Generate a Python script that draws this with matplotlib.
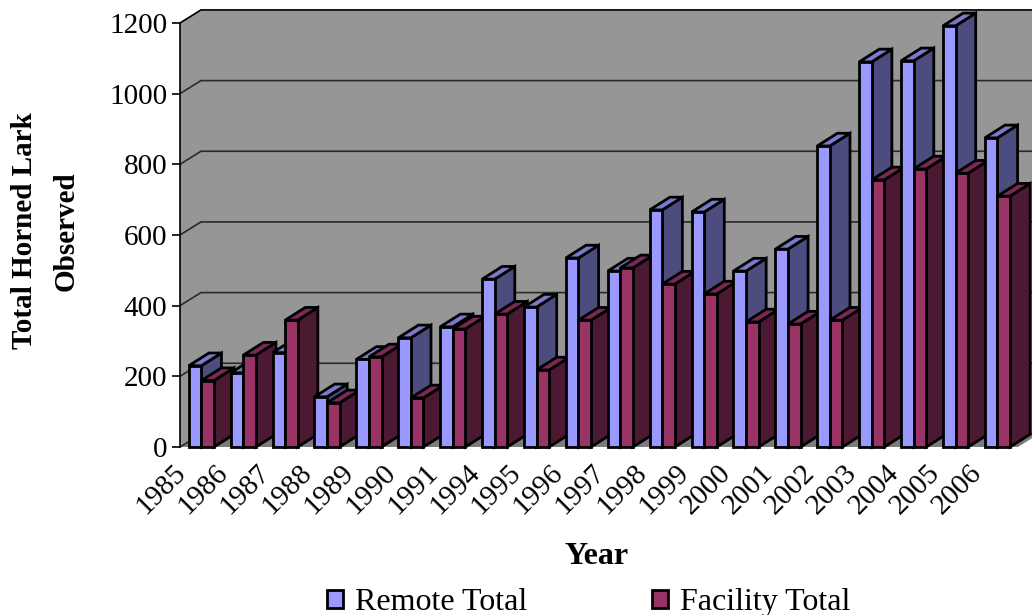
import matplotlib
matplotlib.use("Agg")
import matplotlib.pyplot as plt
import matplotlib.transforms as mtrans
from matplotlib.patches import Patch, Polygon
import numpy as np

plt.rcParams['font.family'] = ['Liberation Serif', 'DejaVu Serif']

years = ["1985", "1986", "1987", "1988", "1989", "1990", "1991", "1994", "1995", "1996",
         "1997", "1998", "1999", "2000", "2001", "2002", "2003", "2004", "2005", "2006"]
remote_total = [230, 210, 267, 142, 248, 309, 340, 475, 396, 535,
                498, 671, 665, 498, 560, 852, 1090, 1093, 1192, 875]
facility_total = [188, 260, 359, 125, 255, 139, 334, 376, 218, 359,
                  507, 461, 433, 354, 348, 359, 756, 787, 775, 710]
y_ticks = [0, 200, 400, 600, 800, 1000, 1200]

# (front, top, side) shades for each series
remote_colors = ("#9999FF", "#7A7ACC", "#4C4C7F")
facility_colors = ("#993366", "#7A2952", "#4C1933")
wall_color = "#969696"
floor_color = "#7C7C7C"

# depth of the box and of the bars, in data units
wall_dx, wall_dy = 0.5, 37
bar_dx, bar_dy = 0.48, 36
bar_w = 0.3
bar_start = 0.21

fig = plt.figure(figsize=(10.32, 6.15), dpi=100)
ax = fig.add_axes([180 / 1032, (615 - 447) / 615, 838 / 1032, 424 / 615])
ax.set_xlim(0, len(years))
ax.set_ylim(0, 1200)
ax.patch.set_visible(False)

n = len(years)

# side and back wall as one shape, then the floor
ax.add_patch(Polygon([(0, 0), (wall_dx, wall_dy), (n + wall_dx, wall_dy), (n + wall_dx, 1200 + wall_dy),
                      (wall_dx, 1200 + wall_dy), (0, 1200)],
                     fc=wall_color, ec="none", clip_on=False, zorder=1))
ax.add_patch(Polygon([(0, 0), (n, 0), (n + wall_dx, wall_dy), (wall_dx, wall_dy)],
                     fc=floor_color, ec="none", clip_on=False, zorder=1))

# gridlines run along the side wall then the back wall
for t in y_ticks:
    col = "black" if t in (1200,) else "#2A2A2A"
    ax.plot([0, wall_dx, n + wall_dx], [t, t + wall_dy, t + wall_dy], color=col,
            lw=1.2, clip_on=False, zorder=2, solid_joinstyle="miter")


def draw_bar(left, value, colors, z):
    right = left + bar_w
    side = [(right, 0), (right + bar_dx, bar_dy), (right + bar_dx, value + bar_dy), (right, value)]
    top = [(left, value), (right, value), (right + bar_dx, value + bar_dy), (left + bar_dx, value + bar_dy)]
    front = [(left, 0), (right, 0), (right, value), (left, value)]
    for pts, c in ((side, colors[2]), (top, colors[1]), (front, colors[0])):
        ax.add_patch(Polygon(pts, fc=c, ec="black", lw=2.0, joinstyle="miter",
                             clip_on=False, zorder=z))


for i in range(n):
    draw_bar(i + bar_start, remote_total[i], remote_colors, 3 + i * 2)
    draw_bar(i + bar_start + bar_w, facility_total[i], facility_colors, 4 + i * 2)

for s in ("top", "right", "bottom"):
    ax.spines[s].set_visible(False)
ax.spines["left"].set_linewidth(1.2)
ax.spines["left"].set_zorder(2)

ax.set_yticks(y_ticks)
ax.tick_params(axis="y", length=6, width=1.2, labelsize=21, pad=3)
ax.set_xticks(np.arange(n) + 0.5)
ax.set_xticklabels(years, rotation=45, ha="right", va="top", rotation_mode="anchor", fontsize=21)
ax.tick_params(axis="x", length=0, pad=9)
shift = mtrans.ScaledTranslation(-28 / 100, 0, fig.dpi_scale_trans)
for lab in ax.get_xticklabels():
    lab.set_transform(lab.get_transform() + shift)

fig.text(597 / 1032, 1 - 556 / 615, "Year", ha="center", va="center", fontsize=23, fontweight="bold")
fig.text(45 / 1032, 1 - 231 / 615, "Total Horned Lark\nObserved", ha="center", va="center", rotation=90,
         fontsize=21, fontweight="bold", linespacing=1.7, multialignment="center")

handles = [Patch(fc=remote_colors[0], ec="black", lw=2.0, label="Remote Total"),
           Patch(fc=facility_colors[0], ec="black", lw=2.0, label="Facility Total")]
fig.legend(handles=handles, loc="lower left", bbox_to_anchor=(327 / 1032, 1 - 617 / 615), ncol=2, frameon=False,
           fontsize=23, handlelength=0.5, handleheight=0.5, handletextpad=0.375, columnspacing=3.9,
           borderpad=0, borderaxespad=0)

fig.savefig("out.png", dpi=100)
